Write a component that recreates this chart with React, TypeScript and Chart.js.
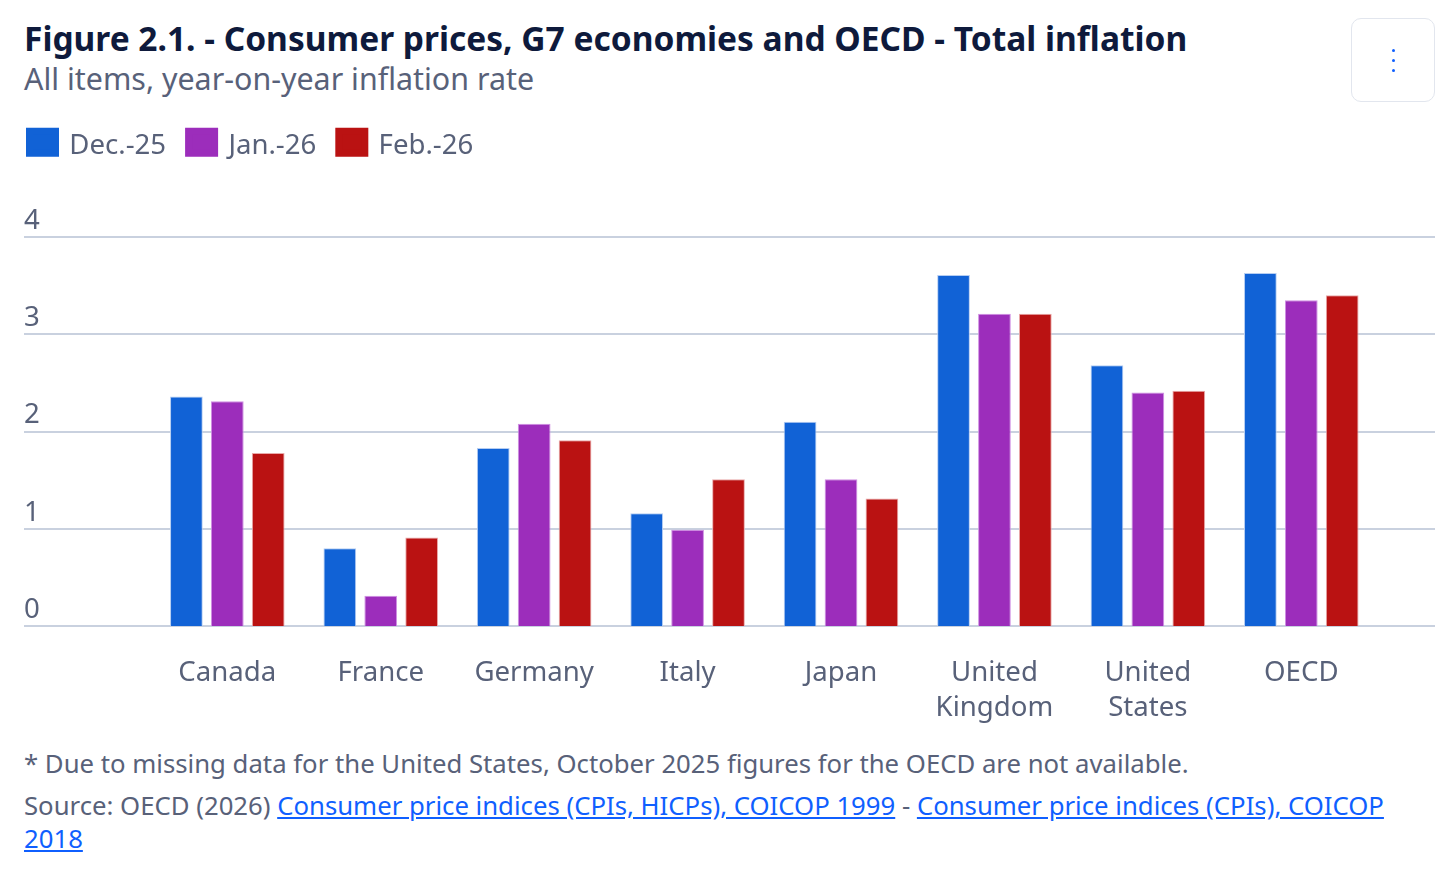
import React, { useEffect, useRef } from "react";
import { Chart, registerables } from "chart.js";

Chart.register(...registerables);

const categories = ["Canada", "France", "Germany", "Italy", "Japan", ["United", "Kingdom"], ["United", "States"], "OECD"];
const dec25 = [2.36, 0.8, 1.83, 1.16, 2.1, 3.61, 2.68, 3.63];
const jan26 = [2.31, 0.31, 2.08, 0.99, 1.51, 3.21, 2.4, 3.35];
const feb26 = [1.78, 0.91, 1.91, 1.51, 1.31, 3.21, 2.42, 3.4];
const seriesNames = ["Dec.-25", "Jan.-26", "Feb.-26"];
const seriesColors = ["#1162d6", "#9c2dbb", "#ba1212"];
const seriesEdges = ["#b5cdf2", "#cf8fe3", "#e9a9a9"];

const FONT = '"Noto Sans", sans-serif';
const MUTED = "#586179";
const GRID = "#c9d1df";

const fullWidthGrid = {
  id: "fullWidthGrid",
  beforeLayout(chart: any) {
    const legend = chart.legend;
    if (legend && !legend.__gap) {
      const fit = legend.fit;
      legend.fit = function () {
        fit.call(this);
        this.height = 131;
      };
      const draw = legend.draw;
      legend.draw = function () {
        const c = this.ctx;
        const fill = c.fillText;
        c.fillText = (t: string, x: number, y: number, m?: number) =>
          m === undefined ? fill.call(c, t, x, y + 3.5) : fill.call(c, t, x, y + 3.5, m);
        draw.call(this);
        delete c.fillText;
      };
      legend.__gap = true;
    }
  },
  beforeDatasetsDraw(chart: any) {
    const { ctx, scales, width } = chart;
    ctx.save();
    ctx.strokeStyle = GRID;
    ctx.lineWidth = 2;
    scales.y.ticks.forEach((t: any) => {
      const y = Math.round(scales.y.getPixelForValue(t.value));
      ctx.beginPath();
      ctx.moveTo(17, y);
      ctx.lineTo(width, y);
      ctx.stroke();
    });
    ctx.restore();
  },
};

export default function App() {
  const ref = useRef<HTMLCanvasElement>(null);
  useEffect(() => {
    const chart = new Chart(ref.current!, {
      type: "bar",
      data: {
        labels: categories as any,
        datasets: [dec25, jan26, feb26].map((d, i) => ({
          label: seriesNames[i],
          data: d,
          backgroundColor: seriesColors[i],
          borderColor: seriesEdges[i],
          borderWidth: 1,
          barPercentage: 0.8,
          categoryPercentage: 0.8,
        })),
      },
      options: {
        animation: false,
        responsive: false,
        layout: { padding: { left: 0, right: 57, top: 0, bottom: 0 } },
        plugins: {
          tooltip: { enabled: false },
          title: { display: false },
          legend: {
            position: "top",
            align: "start",
            labels: {
              boxWidth: 26,
              boxHeight: 22,
              padding: 22.5,
              color: MUTED,
              font: { family: FONT, size: 27.6 },
              generateLabels: () =>
                seriesNames.map((n, i) => ({
                  text: n,
                  fillStyle: seriesColors[i],
                  strokeStyle: seriesColors[i],
                  lineWidth: 7,
                  fontColor: MUTED,
                  datasetIndex: i,
                  hidden: false,
                })),
            },
          },
        },
        scales: {
          x: {
            grid: { display: false, drawTicks: false },
            border: { display: false },
            ticks: {
              color: MUTED,
              font: { family: FONT, size: 27.6, lineHeight: 1.27 },
              padding: 30,
              maxRotation: 0,
              autoSkip: false,
            },
            afterFit: (s: any) => {
              s.height = 115;
            },
          },
          y: {
            min: 0,
            max: 4,
            grid: { display: false, drawTicks: false },
            border: { display: false },
            ticks: {
              stepSize: 1,
              mirror: true,
              padding: -126.6,
              labelOffset: -16,
              color: MUTED,
              font: { family: FONT, size: 27.6 },
            },
            afterFit: (s: any) => {
              s.width = 143.6;
            },
          },
        },
      },
      plugins: [fullWidthGrid],
    } as any);
    return () => chart.destroy();
  }, []);

  const link = { color: "#0f5fff", textDecoration: "underline" };
  return (
    <div style={{ position: "absolute", left: 0, top: 0, width: 1455, height: 873, background: "#fff", fontFamily: FONT, overflow: "hidden" }}>
      <div style={{ position: "absolute", left: 24, top: 14.5, fontSize: 33.5, lineHeight: "46px", fontWeight: 700, color: "#0e1a3c", whiteSpace: "nowrap" }}>
        Figure 2.1. - Consumer prices, G7 economies and OECD - Total inflation
      </div>
      <div style={{ position: "absolute", left: 24, top: 59, fontSize: 30.4, lineHeight: "40px", color: MUTED, whiteSpace: "nowrap" }}>
        All items, year-on-year inflation rate
      </div>
      <div style={{ position: "absolute", left: 1351, top: 18, width: 84, height: 84, boxSizing: "border-box", border: "1.5px solid #e2e6ee", borderRadius: 10 }}>
        {[29.5, 39.5, 49.5].map((t) => (
          <div key={t} style={{ position: "absolute", left: 39.5, top: t, width: 3, height: 3, borderRadius: "50%", background: "#0f5fff" }} />
        ))}
      </div>
      <canvas ref={ref} width={1428} height={635} style={{ position: "absolute", left: 7, top: 106, width: 1428, height: 635 }} />
      <div style={{ position: "absolute", left: 24, top: 745, width: 1400, fontSize: 25.72, lineHeight: "38px", color: MUTED, whiteSpace: "nowrap" }}>
        * Due to missing data for the United States, October 2025 figures for the OECD are not available.
      </div>
      <div style={{ position: "absolute", left: 24, top: 789, width: 1411, fontSize: 25.72, lineHeight: "33px", color: MUTED }}>
        Source: OECD (2026) <a href="#a" style={link}>Consumer price indices (CPIs, HICPs), COICOP 1999</a> - <a href="#b" style={link}>Consumer price indices (CPIs), COICOP 2018</a>
      </div>
    </div>
  );
}
